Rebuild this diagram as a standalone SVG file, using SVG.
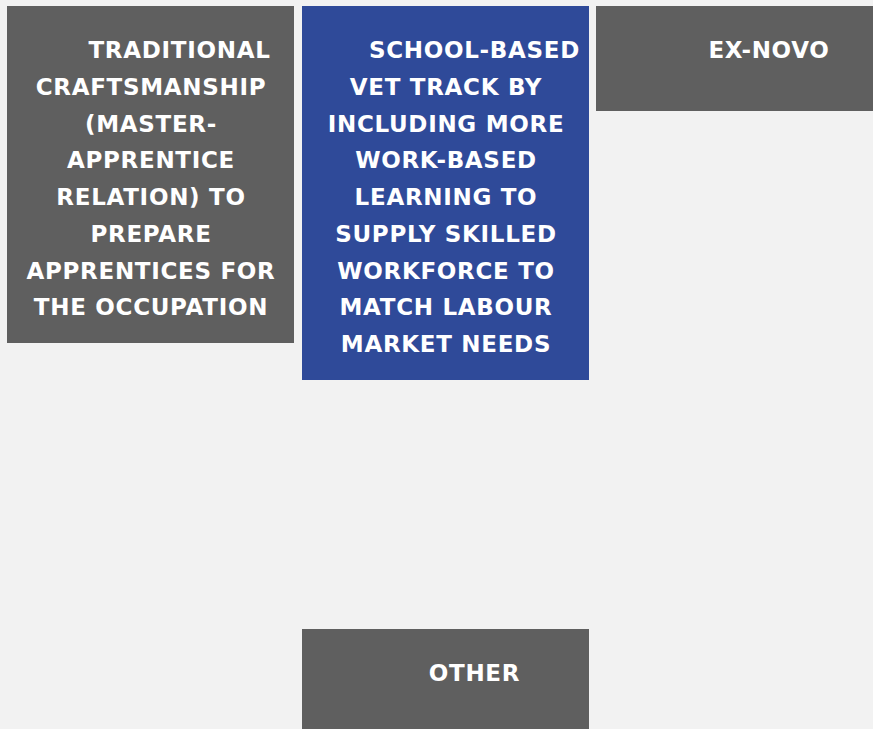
<svg xmlns="http://www.w3.org/2000/svg" width="873" height="729" viewBox="0 0 873 729">
<style>
.bg{fill:#f2f2f2}
.gray{fill:#5f5f5f}
.blue{fill:#2f4a99}
text{font-family:"DejaVu Sans",sans-serif;font-weight:bold;font-size:23px;letter-spacing:0.7px;fill:#ffffff;text-anchor:middle}
</style>
<rect class="bg" x="0" y="0" width="873" height="729"/>
<g id="connectors"></g>
<g id="node-traditional">
<rect class="gray" x="7" y="6" width="287" height="337"/>
<text x="179.5" y="58">TRADITIONAL</text>
<text x="151" y="95">CRAFTSMANSHIP</text>
<text x="151" y="132">(MASTER-</text>
<text x="151" y="168">APPRENTICE</text>
<text x="151" y="205">RELATION) TO</text>
<text x="151" y="242">PREPARE</text>
<text x="151" y="279">APPRENTICES FOR</text>
<text x="151" y="315">THE OCCUPATION</text>
</g>
<g id="node-school">
<rect class="blue" x="302" y="6" width="287" height="374"/>
<text x="474.5" y="58">SCHOOL-BASED</text>
<text x="446" y="95">VET TRACK BY</text>
<text x="446" y="132">INCLUDING MORE</text>
<text x="446" y="168">WORK-BASED</text>
<text x="446" y="205">LEARNING TO</text>
<text x="446" y="242">SUPPLY SKILLED</text>
<text x="446" y="279">WORKFORCE TO</text>
<text x="446" y="315">MATCH LABOUR</text>
<text x="446" y="352">MARKET NEEDS</text>
</g>
<g id="node-exnovo">
<rect class="gray" x="596" y="6" width="287" height="105"/>
<text x="769" y="58">EX-NOVO</text>
</g>
<g id="node-other">
<rect class="gray" x="302" y="629" width="287" height="110"/>
<text x="474.5" y="681">OTHER</text>
</g>
</svg>
